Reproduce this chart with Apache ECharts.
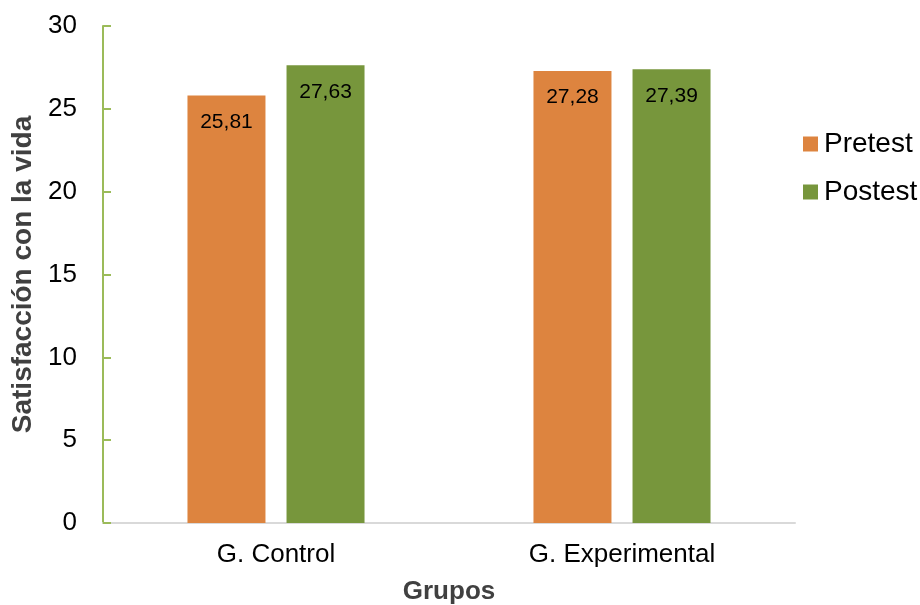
<!DOCTYPE html>
<html><head><meta charset="utf-8">
<script src="https://cdn.jsdelivr.net/npm/echarts@6/dist/echarts.min.js"></script>
<style>html,body{margin:0;padding:0;background:#fff}#c{width:920px;height:605px}</style>
</head><body><div id="c"></div>
<script>
const categories = ['G. Control', 'G. Experimental'];
const pretest = [25.81, 27.28];
const postest = [27.63, 27.39];
const yTicks = [0, 5, 10, 15, 20, 25, 30];

const chart = echarts.init(document.getElementById('c'));
const font = 'Liberation Sans, Arial, sans-serif';
const lbl = {
  show: true, position: 'insideTop', distance: 16, color: '#000',
  fontFamily: font, fontSize: 21,
  formatter: p => p.value.toFixed(2).replace('.', ',')
};
chart.setOption({
  animation: false,
  textStyle: { fontFamily: font },
  grid: { left: 103, right: 125, top: 26, bottom: 82, containLabel: false, outerBoundsMode: 'none' },
  legend: {
    orient: 'vertical', left: 803, top: 130, itemGap: 20, padding: 0,
    itemWidth: 15, itemHeight: 15, icon: 'rect',
    textStyle: { fontFamily: font, fontSize: 28, color: '#000', padding: [0, 0, 0, 1] }
  },
  xAxis: {
    type: 'category', data: categories,
    axisLine: { lineStyle: { color: '#d9d9d9', width: 2 } },
    axisTick: { show: false },
    axisLabel: { color: '#000', fontSize: 26, fontFamily: font, margin: 19 },
    name: 'Grupos', nameLocation: 'middle', nameGap: 56,
    nameTextStyle: { fontSize: 26, fontWeight: 'bold', color: '#404040', fontFamily: font }
  },
  yAxis: {
    type: 'value', min: yTicks[0], max: yTicks[yTicks.length - 1], interval: 5,
    splitLine: { show: false },
    axisLine: { show: true, lineStyle: { color: '#9bbb59', width: 2 } },
    axisTick: { show: true, inside: true, length: 8, lineStyle: { color: '#9bbb59', width: 2 } },
    axisLabel: { color: '#000', fontSize: 26, fontFamily: font, margin: 26 },
    name: 'Satisfacción con la vida', nameLocation: 'middle', nameGap: 58,
    nameTextStyle: { fontSize: 28, fontWeight: 'bold', color: '#404040', fontFamily: font }
  },
  series: [
    { name: 'Pretest', type: 'bar', data: pretest, barWidth: 78, barGap: '27%',
      itemStyle: { color: '#dd843f' }, label: lbl },
    { name: 'Postest', type: 'bar', data: postest, barWidth: 78,
      itemStyle: { color: '#77963c' }, label: lbl }
  ]
});
</script></body></html>
